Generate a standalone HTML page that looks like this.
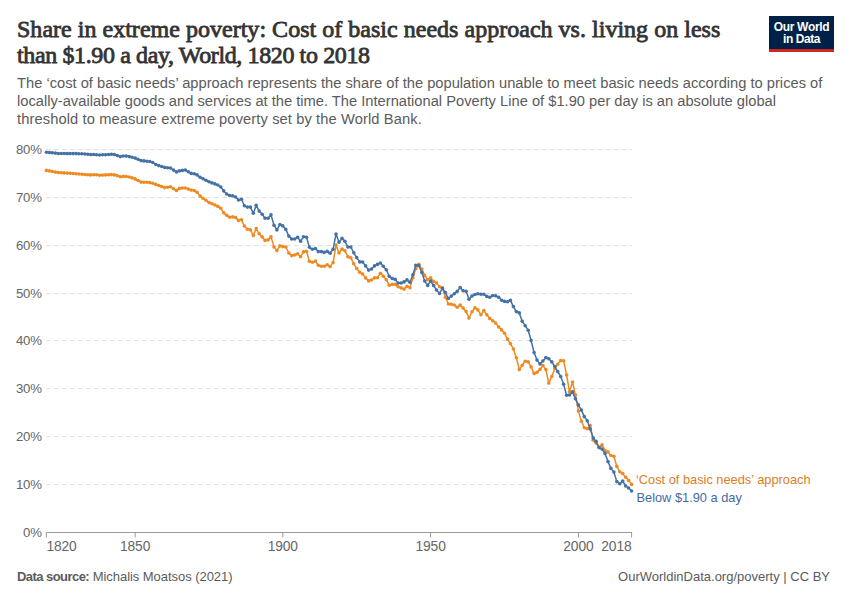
<!DOCTYPE html>
<html><head><meta charset="utf-8"><style>
html,body{margin:0;padding:0;background:#fff;}
body{width:850px;height:600px;position:relative;overflow:hidden;font-family:"Liberation Sans",sans-serif;}
.title{position:absolute;left:17px;white-space:nowrap;font-family:"Liberation Serif",serif;font-weight:normal;-webkit-text-stroke:0.8px #333;font-size:24px;line-height:26px;color:#333;}
.sub{position:absolute;left:17px;white-space:nowrap;font-size:14.7px;line-height:17.7px;color:#5b5b5b;}
.logo{position:absolute;left:769px;top:16px;width:65px;height:33px;background:#002147;border-bottom:3px solid #ce261e;color:#fff;font-weight:bold;font-size:12px;line-height:11.7px;text-align:center;padding-top:0;}
.logo div{position:relative;top:6px;}
.ax{font-family:"Liberation Sans",sans-serif;font-size:13.8px;fill:#666;letter-spacing:-0.1px}
.ay{font-size:13.2px;letter-spacing:-0.2px}
.lab{font-family:"Liberation Sans",sans-serif;font-size:12.8px;}
.foot{position:absolute;top:569px;font-size:13px;color:#5b5b5b;line-height:16px;}
</style></head><body>
<div class="title" style="top:16px;letter-spacing:0.02px">Share in extreme poverty: Cost of basic needs approach vs. living on less</div>
<div class="title" style="top:42px;letter-spacing:-0.38px">than $1.90 a day, World, 1820 to 2018</div>
<div class="sub" style="top:75.4px">The ‘cost of basic needs’ approach represents the share of the population unable to meet basic needs according to prices of</div>
<div class="sub" style="top:93.1px">locally-available goods and services at the time. The International Poverty Line of $1.90 per day is an absolute global</div>
<div class="sub" style="top:110.8px;letter-spacing:0.1px">threshold to measure extreme poverty set by the World Bank.</div>
<div class="logo"><div><span style="letter-spacing:-0.3px">Our World</span><br><span style="letter-spacing:-0.45px">in Data</span></div></div>
<svg width="850" height="600" style="position:absolute;left:0;top:0">
<line x1="46.3" y1="484.5" x2="632" y2="484.5" stroke="#dedede" stroke-width="1" stroke-dasharray="4.4,3.6"/>
<text x="41.7" y="489.4" text-anchor="end" class="ax ay">10%</text>
<line x1="46.3" y1="436.5" x2="632" y2="436.5" stroke="#dedede" stroke-width="1" stroke-dasharray="4.4,3.6"/>
<text x="41.7" y="441.4" text-anchor="end" class="ax ay">20%</text>
<line x1="46.3" y1="388.5" x2="632" y2="388.5" stroke="#dedede" stroke-width="1" stroke-dasharray="4.4,3.6"/>
<text x="41.7" y="393.4" text-anchor="end" class="ax ay">30%</text>
<line x1="46.3" y1="340.5" x2="632" y2="340.5" stroke="#dedede" stroke-width="1" stroke-dasharray="4.4,3.6"/>
<text x="41.7" y="345.4" text-anchor="end" class="ax ay">40%</text>
<line x1="46.3" y1="293.5" x2="632" y2="293.5" stroke="#dedede" stroke-width="1" stroke-dasharray="4.4,3.6"/>
<text x="41.7" y="298.4" text-anchor="end" class="ax ay">50%</text>
<line x1="46.3" y1="245.5" x2="632" y2="245.5" stroke="#dedede" stroke-width="1" stroke-dasharray="4.4,3.6"/>
<text x="41.7" y="250.4" text-anchor="end" class="ax ay">60%</text>
<line x1="46.3" y1="197.5" x2="632" y2="197.5" stroke="#dedede" stroke-width="1" stroke-dasharray="4.4,3.6"/>
<text x="41.7" y="202.4" text-anchor="end" class="ax ay">70%</text>
<line x1="46.3" y1="149.5" x2="632" y2="149.5" stroke="#dedede" stroke-width="1" stroke-dasharray="4.4,3.6"/>
<text x="41.7" y="154.4" text-anchor="end" class="ax ay">80%</text>
<text x="41.7" y="537.2" text-anchor="end" class="ax ay">0%</text>
<line x1="46.4" y1="532.5" x2="632" y2="532.5" stroke="#999" stroke-width="1"/>
<line x1="46.4" y1="532.5" x2="46.4" y2="537.5" stroke="#999" stroke-width="1"/>
<text x="46.4" y="551" text-anchor="start" class="ax">1820</text>
<line x1="135.1" y1="532.5" x2="135.1" y2="537.5" stroke="#999" stroke-width="1"/>
<text x="135.1" y="551" text-anchor="middle" class="ax">1850</text>
<line x1="282.8" y1="532.5" x2="282.8" y2="537.5" stroke="#999" stroke-width="1"/>
<text x="282.8" y="551" text-anchor="middle" class="ax">1900</text>
<line x1="430.6" y1="532.5" x2="430.6" y2="537.5" stroke="#999" stroke-width="1"/>
<text x="430.6" y="551" text-anchor="middle" class="ax">1950</text>
<line x1="578.4" y1="532.5" x2="578.4" y2="537.5" stroke="#999" stroke-width="1"/>
<text x="578.4" y="551" text-anchor="middle" class="ax">2000</text>
<line x1="631.6" y1="532.5" x2="631.6" y2="537.5" stroke="#999" stroke-width="1"/>
<text x="631.6" y="551" text-anchor="end" class="ax">2018</text>
<polyline fill="none" stroke="#ee8a22" stroke-width="1.5" stroke-linejoin="round" points="46.4,170.4 49.4,170.9 52.3,171.5 55.3,172.1 58.2,172.5 61.2,172.7 64.1,172.9 67.1,173.1 70.0,173.3 73.0,173.5 76.0,173.7 78.9,174.0 81.9,174.3 84.8,174.5 87.8,174.8 90.7,174.9 93.7,174.7 96.6,174.8 99.6,175.2 102.6,175.1 105.5,174.9 108.5,174.8 111.4,174.6 114.4,174.9 117.3,175.8 120.3,176.8 123.2,176.4 126.2,176.5 129.2,177.0 132.1,177.9 135.1,178.9 138.0,180.5 141.0,182.1 143.9,182.2 146.9,182.3 149.8,182.6 152.8,183.2 155.8,184.4 158.7,185.5 161.7,186.5 164.6,187.6 167.6,187.2 170.5,186.7 173.5,188.8 176.4,190.4 179.4,188.4 182.4,188.0 185.3,188.0 188.3,189.1 191.2,190.1 194.2,190.5 197.1,192.2 200.1,196.1 203.0,198.2 206.0,200.3 209.0,202.5 211.9,203.8 214.9,205.0 217.8,206.4 220.8,208.3 223.7,212.8 226.7,215.3 229.6,217.3 232.6,216.9 235.6,217.6 238.5,220.4 241.5,219.7 244.4,226.1 247.4,229.3 250.3,229.8 253.3,235.6 256.2,228.5 259.2,233.8 262.2,236.9 265.1,240.4 268.1,239.9 271.0,236.8 274.0,246.9 276.9,250.6 279.9,245.9 282.8,246.6 285.8,247.0 288.8,253.0 291.7,255.6 294.7,255.0 297.6,253.7 300.6,256.7 303.5,251.9 306.5,251.3 309.4,261.3 312.4,262.3 315.4,261.1 318.3,265.3 321.3,266.3 324.2,266.3 327.2,264.8 330.1,266.6 333.1,262.6 336.0,245.1 339.0,253.0 342.0,249.1 344.9,250.8 347.9,256.7 350.8,257.7 353.8,263.8 356.7,268.6 359.7,272.3 362.6,274.0 365.6,277.9 368.6,280.9 371.5,280.0 374.5,277.9 377.4,277.7 380.4,273.3 383.3,276.3 386.3,279.8 389.2,285.2 392.2,284.4 395.2,284.3 398.1,286.8 401.1,287.9 404.0,289.1 407.0,286.4 409.9,287.7 412.9,277.7 415.8,268.8 418.8,264.2 421.8,269.1 424.7,275.4 427.7,279.7 430.6,277.7 433.6,281.5 436.5,282.9 439.5,286.7 442.4,287.9 445.4,297.2 448.4,304.0 451.3,304.3 454.3,305.0 457.2,307.2 460.2,305.1 463.1,308.1 466.1,311.5 469.0,318.1 472.0,311.8 475.0,307.7 477.9,309.9 480.9,314.8 483.8,310.6 486.8,314.7 489.7,318.4 492.7,320.8 495.6,323.0 498.6,326.9 501.6,329.9 504.5,333.2 507.5,339.1 510.4,343.6 513.4,349.0 516.3,357.8 519.3,369.6 522.2,365.3 525.2,361.3 528.2,361.9 531.1,366.9 534.1,373.6 537.0,372.3 540.0,369.4 542.9,365.6 545.9,369.6 548.8,383.1 551.8,376.5 554.8,368.8 557.7,364.2 560.7,360.6 563.6,360.7 566.6,375.0 569.5,391.7 572.5,382.0 575.4,394.9 578.4,411.1 581.4,421.3 584.3,427.7 587.3,428.7 590.2,425.5 593.2,440.3 596.1,443.1 599.1,447.5 602.0,444.9 605.0,450.6 608.0,451.9 610.9,455.5 613.9,456.2 616.8,466.4 619.8,471.8 622.7,473.6 625.7,477.3 628.6,480.4 631.6,484.4"/>
<g fill="#ee8a22"><circle cx="46.4" cy="170.4" r="1.8"/><circle cx="49.4" cy="170.9" r="1.8"/><circle cx="52.3" cy="171.5" r="1.8"/><circle cx="55.3" cy="172.1" r="1.8"/><circle cx="58.2" cy="172.5" r="1.8"/><circle cx="61.2" cy="172.7" r="1.8"/><circle cx="64.1" cy="172.9" r="1.8"/><circle cx="67.1" cy="173.1" r="1.8"/><circle cx="70.0" cy="173.3" r="1.8"/><circle cx="73.0" cy="173.5" r="1.8"/><circle cx="76.0" cy="173.7" r="1.8"/><circle cx="78.9" cy="174.0" r="1.8"/><circle cx="81.9" cy="174.3" r="1.8"/><circle cx="84.8" cy="174.5" r="1.8"/><circle cx="87.8" cy="174.8" r="1.8"/><circle cx="90.7" cy="174.9" r="1.8"/><circle cx="93.7" cy="174.7" r="1.8"/><circle cx="96.6" cy="174.8" r="1.8"/><circle cx="99.6" cy="175.2" r="1.8"/><circle cx="102.6" cy="175.1" r="1.8"/><circle cx="105.5" cy="174.9" r="1.8"/><circle cx="108.5" cy="174.8" r="1.8"/><circle cx="111.4" cy="174.6" r="1.8"/><circle cx="114.4" cy="174.9" r="1.8"/><circle cx="117.3" cy="175.8" r="1.8"/><circle cx="120.3" cy="176.8" r="1.8"/><circle cx="123.2" cy="176.4" r="1.8"/><circle cx="126.2" cy="176.5" r="1.8"/><circle cx="129.2" cy="177.0" r="1.8"/><circle cx="132.1" cy="177.9" r="1.8"/><circle cx="135.1" cy="178.9" r="1.8"/><circle cx="138.0" cy="180.5" r="1.8"/><circle cx="141.0" cy="182.1" r="1.8"/><circle cx="143.9" cy="182.2" r="1.8"/><circle cx="146.9" cy="182.3" r="1.8"/><circle cx="149.8" cy="182.6" r="1.8"/><circle cx="152.8" cy="183.2" r="1.8"/><circle cx="155.8" cy="184.4" r="1.8"/><circle cx="158.7" cy="185.5" r="1.8"/><circle cx="161.7" cy="186.5" r="1.8"/><circle cx="164.6" cy="187.6" r="1.8"/><circle cx="167.6" cy="187.2" r="1.8"/><circle cx="170.5" cy="186.7" r="1.8"/><circle cx="173.5" cy="188.8" r="1.8"/><circle cx="176.4" cy="190.4" r="1.8"/><circle cx="179.4" cy="188.4" r="1.8"/><circle cx="182.4" cy="188.0" r="1.8"/><circle cx="185.3" cy="188.0" r="1.8"/><circle cx="188.3" cy="189.1" r="1.8"/><circle cx="191.2" cy="190.1" r="1.8"/><circle cx="194.2" cy="190.5" r="1.8"/><circle cx="197.1" cy="192.2" r="1.8"/><circle cx="200.1" cy="196.1" r="1.8"/><circle cx="203.0" cy="198.2" r="1.8"/><circle cx="206.0" cy="200.3" r="1.8"/><circle cx="209.0" cy="202.5" r="1.8"/><circle cx="211.9" cy="203.8" r="1.8"/><circle cx="214.9" cy="205.0" r="1.8"/><circle cx="217.8" cy="206.4" r="1.8"/><circle cx="220.8" cy="208.3" r="1.8"/><circle cx="223.7" cy="212.8" r="1.8"/><circle cx="226.7" cy="215.3" r="1.8"/><circle cx="229.6" cy="217.3" r="1.8"/><circle cx="232.6" cy="216.9" r="1.8"/><circle cx="235.6" cy="217.6" r="1.8"/><circle cx="238.5" cy="220.4" r="1.8"/><circle cx="241.5" cy="219.7" r="1.8"/><circle cx="244.4" cy="226.1" r="1.8"/><circle cx="247.4" cy="229.3" r="1.8"/><circle cx="250.3" cy="229.8" r="1.8"/><circle cx="253.3" cy="235.6" r="1.8"/><circle cx="256.2" cy="228.5" r="1.8"/><circle cx="259.2" cy="233.8" r="1.8"/><circle cx="262.2" cy="236.9" r="1.8"/><circle cx="265.1" cy="240.4" r="1.8"/><circle cx="268.1" cy="239.9" r="1.8"/><circle cx="271.0" cy="236.8" r="1.8"/><circle cx="274.0" cy="246.9" r="1.8"/><circle cx="276.9" cy="250.6" r="1.8"/><circle cx="279.9" cy="245.9" r="1.8"/><circle cx="282.8" cy="246.6" r="1.8"/><circle cx="285.8" cy="247.0" r="1.8"/><circle cx="288.8" cy="253.0" r="1.8"/><circle cx="291.7" cy="255.6" r="1.8"/><circle cx="294.7" cy="255.0" r="1.8"/><circle cx="297.6" cy="253.7" r="1.8"/><circle cx="300.6" cy="256.7" r="1.8"/><circle cx="303.5" cy="251.9" r="1.8"/><circle cx="306.5" cy="251.3" r="1.8"/><circle cx="309.4" cy="261.3" r="1.8"/><circle cx="312.4" cy="262.3" r="1.8"/><circle cx="315.4" cy="261.1" r="1.8"/><circle cx="318.3" cy="265.3" r="1.8"/><circle cx="321.3" cy="266.3" r="1.8"/><circle cx="324.2" cy="266.3" r="1.8"/><circle cx="327.2" cy="264.8" r="1.8"/><circle cx="330.1" cy="266.6" r="1.8"/><circle cx="333.1" cy="262.6" r="1.8"/><circle cx="336.0" cy="245.1" r="1.8"/><circle cx="339.0" cy="253.0" r="1.8"/><circle cx="342.0" cy="249.1" r="1.8"/><circle cx="344.9" cy="250.8" r="1.8"/><circle cx="347.9" cy="256.7" r="1.8"/><circle cx="350.8" cy="257.7" r="1.8"/><circle cx="353.8" cy="263.8" r="1.8"/><circle cx="356.7" cy="268.6" r="1.8"/><circle cx="359.7" cy="272.3" r="1.8"/><circle cx="362.6" cy="274.0" r="1.8"/><circle cx="365.6" cy="277.9" r="1.8"/><circle cx="368.6" cy="280.9" r="1.8"/><circle cx="371.5" cy="280.0" r="1.8"/><circle cx="374.5" cy="277.9" r="1.8"/><circle cx="377.4" cy="277.7" r="1.8"/><circle cx="380.4" cy="273.3" r="1.8"/><circle cx="383.3" cy="276.3" r="1.8"/><circle cx="386.3" cy="279.8" r="1.8"/><circle cx="389.2" cy="285.2" r="1.8"/><circle cx="392.2" cy="284.4" r="1.8"/><circle cx="395.2" cy="284.3" r="1.8"/><circle cx="398.1" cy="286.8" r="1.8"/><circle cx="401.1" cy="287.9" r="1.8"/><circle cx="404.0" cy="289.1" r="1.8"/><circle cx="407.0" cy="286.4" r="1.8"/><circle cx="409.9" cy="287.7" r="1.8"/><circle cx="412.9" cy="277.7" r="1.8"/><circle cx="415.8" cy="268.8" r="1.8"/><circle cx="418.8" cy="264.2" r="1.8"/><circle cx="421.8" cy="269.1" r="1.8"/><circle cx="424.7" cy="275.4" r="1.8"/><circle cx="427.7" cy="279.7" r="1.8"/><circle cx="430.6" cy="277.7" r="1.8"/><circle cx="433.6" cy="281.5" r="1.8"/><circle cx="436.5" cy="282.9" r="1.8"/><circle cx="439.5" cy="286.7" r="1.8"/><circle cx="442.4" cy="287.9" r="1.8"/><circle cx="445.4" cy="297.2" r="1.8"/><circle cx="448.4" cy="304.0" r="1.8"/><circle cx="451.3" cy="304.3" r="1.8"/><circle cx="454.3" cy="305.0" r="1.8"/><circle cx="457.2" cy="307.2" r="1.8"/><circle cx="460.2" cy="305.1" r="1.8"/><circle cx="463.1" cy="308.1" r="1.8"/><circle cx="466.1" cy="311.5" r="1.8"/><circle cx="469.0" cy="318.1" r="1.8"/><circle cx="472.0" cy="311.8" r="1.8"/><circle cx="475.0" cy="307.7" r="1.8"/><circle cx="477.9" cy="309.9" r="1.8"/><circle cx="480.9" cy="314.8" r="1.8"/><circle cx="483.8" cy="310.6" r="1.8"/><circle cx="486.8" cy="314.7" r="1.8"/><circle cx="489.7" cy="318.4" r="1.8"/><circle cx="492.7" cy="320.8" r="1.8"/><circle cx="495.6" cy="323.0" r="1.8"/><circle cx="498.6" cy="326.9" r="1.8"/><circle cx="501.6" cy="329.9" r="1.8"/><circle cx="504.5" cy="333.2" r="1.8"/><circle cx="507.5" cy="339.1" r="1.8"/><circle cx="510.4" cy="343.6" r="1.8"/><circle cx="513.4" cy="349.0" r="1.8"/><circle cx="516.3" cy="357.8" r="1.8"/><circle cx="519.3" cy="369.6" r="1.8"/><circle cx="522.2" cy="365.3" r="1.8"/><circle cx="525.2" cy="361.3" r="1.8"/><circle cx="528.2" cy="361.9" r="1.8"/><circle cx="531.1" cy="366.9" r="1.8"/><circle cx="534.1" cy="373.6" r="1.8"/><circle cx="537.0" cy="372.3" r="1.8"/><circle cx="540.0" cy="369.4" r="1.8"/><circle cx="542.9" cy="365.6" r="1.8"/><circle cx="545.9" cy="369.6" r="1.8"/><circle cx="548.8" cy="383.1" r="1.8"/><circle cx="551.8" cy="376.5" r="1.8"/><circle cx="554.8" cy="368.8" r="1.8"/><circle cx="557.7" cy="364.2" r="1.8"/><circle cx="560.7" cy="360.6" r="1.8"/><circle cx="563.6" cy="360.7" r="1.8"/><circle cx="566.6" cy="375.0" r="1.8"/><circle cx="569.5" cy="391.7" r="1.8"/><circle cx="572.5" cy="382.0" r="1.8"/><circle cx="575.4" cy="394.9" r="1.8"/><circle cx="578.4" cy="411.1" r="1.8"/><circle cx="581.4" cy="421.3" r="1.8"/><circle cx="584.3" cy="427.7" r="1.8"/><circle cx="587.3" cy="428.7" r="1.8"/><circle cx="590.2" cy="425.5" r="1.8"/><circle cx="593.2" cy="440.3" r="1.8"/><circle cx="596.1" cy="443.1" r="1.8"/><circle cx="599.1" cy="447.5" r="1.8"/><circle cx="602.0" cy="444.9" r="1.8"/><circle cx="605.0" cy="450.6" r="1.8"/><circle cx="608.0" cy="451.9" r="1.8"/><circle cx="610.9" cy="455.5" r="1.8"/><circle cx="613.9" cy="456.2" r="1.8"/><circle cx="616.8" cy="466.4" r="1.8"/><circle cx="619.8" cy="471.8" r="1.8"/><circle cx="622.7" cy="473.6" r="1.8"/><circle cx="625.7" cy="477.3" r="1.8"/><circle cx="628.6" cy="480.4" r="1.8"/><circle cx="631.6" cy="484.4" r="1.8"/></g>
<polyline fill="none" stroke="#4471a6" stroke-width="1.5" stroke-linejoin="round" points="46.4,152.3 49.4,152.5 52.3,152.7 55.3,153.1 58.2,153.5 61.2,153.5 64.1,153.5 67.1,153.6 70.0,153.6 73.0,153.6 76.0,153.6 78.9,153.7 81.9,153.8 84.8,154.0 87.8,154.3 90.7,154.6 93.7,154.5 96.6,154.7 99.6,155.0 102.6,154.8 105.5,154.7 108.5,154.5 111.4,154.3 114.4,154.5 117.3,155.6 120.3,156.6 123.2,156.0 126.2,156.1 129.2,156.6 132.1,157.3 135.1,158.1 138.0,159.3 141.0,160.6 143.9,160.9 146.9,161.3 149.8,161.5 152.8,162.5 155.8,164.5 158.7,165.6 161.7,166.5 164.6,167.4 167.6,167.7 170.5,168.0 173.5,170.1 176.4,171.9 179.4,170.9 182.4,170.4 185.3,170.0 188.3,171.8 191.2,173.4 194.2,173.8 197.1,174.9 200.1,177.3 203.0,178.8 206.0,180.3 209.0,181.8 211.9,182.9 214.9,183.9 217.8,185.0 220.8,187.0 223.7,190.9 226.7,194.0 229.6,195.5 232.6,195.8 235.6,197.0 238.5,200.0 241.5,199.3 244.4,205.8 247.4,207.1 250.3,207.1 253.3,213.3 256.2,205.4 259.2,211.1 262.2,214.2 265.1,218.3 268.1,218.2 271.0,214.8 274.0,225.2 276.9,229.9 279.9,224.6 282.8,225.9 285.8,229.4 288.8,236.1 291.7,239.0 294.7,239.0 297.6,237.3 300.6,241.3 303.5,236.7 306.5,237.3 309.4,247.3 312.4,249.3 315.4,248.5 318.3,251.6 321.3,251.6 324.2,252.4 327.2,251.3 330.1,253.2 333.1,249.3 336.0,234.1 339.0,242.3 342.0,238.4 344.9,241.3 347.9,247.1 350.8,247.0 353.8,252.8 356.7,257.6 359.7,261.9 362.6,262.0 365.6,265.9 368.6,270.1 371.5,269.0 374.5,265.9 377.4,264.4 380.4,263.0 383.3,266.3 386.3,269.8 389.2,276.2 392.2,278.5 395.2,279.4 398.1,283.1 401.1,283.0 404.0,281.9 407.0,279.9 409.9,282.2 412.9,274.8 415.8,265.3 418.8,265.5 421.8,272.5 424.7,281.0 427.7,285.4 430.6,281.0 433.6,285.5 436.5,290.0 439.5,293.5 442.4,288.3 445.4,292.5 448.4,298.5 451.3,296.1 454.3,293.7 457.2,291.4 460.2,287.6 463.1,290.8 466.1,291.3 469.0,299.3 472.0,296.1 475.0,294.5 477.9,293.8 480.9,294.3 483.8,294.3 486.8,296.4 489.7,297.3 492.7,295.5 495.6,295.7 498.6,297.3 501.6,300.2 504.5,301.4 507.5,301.7 510.4,300.4 513.4,306.6 516.3,311.6 519.3,312.9 522.2,321.2 525.2,325.7 528.2,330.2 531.1,340.5 534.1,352.6 537.0,360.1 540.0,363.9 542.9,361.0 545.9,357.6 548.8,358.8 551.8,361.9 554.8,366.5 557.7,371.6 560.7,376.5 563.6,384.2 566.6,395.2 569.5,395.0 572.5,391.9 575.4,398.8 578.4,404.9 581.4,410.1 584.3,416.6 587.3,420.7 590.2,428.9 593.2,438.1 596.1,441.4 599.1,447.6 602.0,449.1 605.0,453.4 608.0,461.6 610.9,468.4 613.9,472.1 616.8,481.6 619.8,483.8 622.7,481.1 625.7,486.0 628.6,488.0 631.6,491.0"/>
<g fill="#4471a6"><circle cx="46.4" cy="152.3" r="1.8"/><circle cx="49.4" cy="152.5" r="1.8"/><circle cx="52.3" cy="152.7" r="1.8"/><circle cx="55.3" cy="153.1" r="1.8"/><circle cx="58.2" cy="153.5" r="1.8"/><circle cx="61.2" cy="153.5" r="1.8"/><circle cx="64.1" cy="153.5" r="1.8"/><circle cx="67.1" cy="153.6" r="1.8"/><circle cx="70.0" cy="153.6" r="1.8"/><circle cx="73.0" cy="153.6" r="1.8"/><circle cx="76.0" cy="153.6" r="1.8"/><circle cx="78.9" cy="153.7" r="1.8"/><circle cx="81.9" cy="153.8" r="1.8"/><circle cx="84.8" cy="154.0" r="1.8"/><circle cx="87.8" cy="154.3" r="1.8"/><circle cx="90.7" cy="154.6" r="1.8"/><circle cx="93.7" cy="154.5" r="1.8"/><circle cx="96.6" cy="154.7" r="1.8"/><circle cx="99.6" cy="155.0" r="1.8"/><circle cx="102.6" cy="154.8" r="1.8"/><circle cx="105.5" cy="154.7" r="1.8"/><circle cx="108.5" cy="154.5" r="1.8"/><circle cx="111.4" cy="154.3" r="1.8"/><circle cx="114.4" cy="154.5" r="1.8"/><circle cx="117.3" cy="155.6" r="1.8"/><circle cx="120.3" cy="156.6" r="1.8"/><circle cx="123.2" cy="156.0" r="1.8"/><circle cx="126.2" cy="156.1" r="1.8"/><circle cx="129.2" cy="156.6" r="1.8"/><circle cx="132.1" cy="157.3" r="1.8"/><circle cx="135.1" cy="158.1" r="1.8"/><circle cx="138.0" cy="159.3" r="1.8"/><circle cx="141.0" cy="160.6" r="1.8"/><circle cx="143.9" cy="160.9" r="1.8"/><circle cx="146.9" cy="161.3" r="1.8"/><circle cx="149.8" cy="161.5" r="1.8"/><circle cx="152.8" cy="162.5" r="1.8"/><circle cx="155.8" cy="164.5" r="1.8"/><circle cx="158.7" cy="165.6" r="1.8"/><circle cx="161.7" cy="166.5" r="1.8"/><circle cx="164.6" cy="167.4" r="1.8"/><circle cx="167.6" cy="167.7" r="1.8"/><circle cx="170.5" cy="168.0" r="1.8"/><circle cx="173.5" cy="170.1" r="1.8"/><circle cx="176.4" cy="171.9" r="1.8"/><circle cx="179.4" cy="170.9" r="1.8"/><circle cx="182.4" cy="170.4" r="1.8"/><circle cx="185.3" cy="170.0" r="1.8"/><circle cx="188.3" cy="171.8" r="1.8"/><circle cx="191.2" cy="173.4" r="1.8"/><circle cx="194.2" cy="173.8" r="1.8"/><circle cx="197.1" cy="174.9" r="1.8"/><circle cx="200.1" cy="177.3" r="1.8"/><circle cx="203.0" cy="178.8" r="1.8"/><circle cx="206.0" cy="180.3" r="1.8"/><circle cx="209.0" cy="181.8" r="1.8"/><circle cx="211.9" cy="182.9" r="1.8"/><circle cx="214.9" cy="183.9" r="1.8"/><circle cx="217.8" cy="185.0" r="1.8"/><circle cx="220.8" cy="187.0" r="1.8"/><circle cx="223.7" cy="190.9" r="1.8"/><circle cx="226.7" cy="194.0" r="1.8"/><circle cx="229.6" cy="195.5" r="1.8"/><circle cx="232.6" cy="195.8" r="1.8"/><circle cx="235.6" cy="197.0" r="1.8"/><circle cx="238.5" cy="200.0" r="1.8"/><circle cx="241.5" cy="199.3" r="1.8"/><circle cx="244.4" cy="205.8" r="1.8"/><circle cx="247.4" cy="207.1" r="1.8"/><circle cx="250.3" cy="207.1" r="1.8"/><circle cx="253.3" cy="213.3" r="1.8"/><circle cx="256.2" cy="205.4" r="1.8"/><circle cx="259.2" cy="211.1" r="1.8"/><circle cx="262.2" cy="214.2" r="1.8"/><circle cx="265.1" cy="218.3" r="1.8"/><circle cx="268.1" cy="218.2" r="1.8"/><circle cx="271.0" cy="214.8" r="1.8"/><circle cx="274.0" cy="225.2" r="1.8"/><circle cx="276.9" cy="229.9" r="1.8"/><circle cx="279.9" cy="224.6" r="1.8"/><circle cx="282.8" cy="225.9" r="1.8"/><circle cx="285.8" cy="229.4" r="1.8"/><circle cx="288.8" cy="236.1" r="1.8"/><circle cx="291.7" cy="239.0" r="1.8"/><circle cx="294.7" cy="239.0" r="1.8"/><circle cx="297.6" cy="237.3" r="1.8"/><circle cx="300.6" cy="241.3" r="1.8"/><circle cx="303.5" cy="236.7" r="1.8"/><circle cx="306.5" cy="237.3" r="1.8"/><circle cx="309.4" cy="247.3" r="1.8"/><circle cx="312.4" cy="249.3" r="1.8"/><circle cx="315.4" cy="248.5" r="1.8"/><circle cx="318.3" cy="251.6" r="1.8"/><circle cx="321.3" cy="251.6" r="1.8"/><circle cx="324.2" cy="252.4" r="1.8"/><circle cx="327.2" cy="251.3" r="1.8"/><circle cx="330.1" cy="253.2" r="1.8"/><circle cx="333.1" cy="249.3" r="1.8"/><circle cx="336.0" cy="234.1" r="1.8"/><circle cx="339.0" cy="242.3" r="1.8"/><circle cx="342.0" cy="238.4" r="1.8"/><circle cx="344.9" cy="241.3" r="1.8"/><circle cx="347.9" cy="247.1" r="1.8"/><circle cx="350.8" cy="247.0" r="1.8"/><circle cx="353.8" cy="252.8" r="1.8"/><circle cx="356.7" cy="257.6" r="1.8"/><circle cx="359.7" cy="261.9" r="1.8"/><circle cx="362.6" cy="262.0" r="1.8"/><circle cx="365.6" cy="265.9" r="1.8"/><circle cx="368.6" cy="270.1" r="1.8"/><circle cx="371.5" cy="269.0" r="1.8"/><circle cx="374.5" cy="265.9" r="1.8"/><circle cx="377.4" cy="264.4" r="1.8"/><circle cx="380.4" cy="263.0" r="1.8"/><circle cx="383.3" cy="266.3" r="1.8"/><circle cx="386.3" cy="269.8" r="1.8"/><circle cx="389.2" cy="276.2" r="1.8"/><circle cx="392.2" cy="278.5" r="1.8"/><circle cx="395.2" cy="279.4" r="1.8"/><circle cx="398.1" cy="283.1" r="1.8"/><circle cx="401.1" cy="283.0" r="1.8"/><circle cx="404.0" cy="281.9" r="1.8"/><circle cx="407.0" cy="279.9" r="1.8"/><circle cx="409.9" cy="282.2" r="1.8"/><circle cx="412.9" cy="274.8" r="1.8"/><circle cx="415.8" cy="265.3" r="1.8"/><circle cx="418.8" cy="265.5" r="1.8"/><circle cx="421.8" cy="272.5" r="1.8"/><circle cx="424.7" cy="281.0" r="1.8"/><circle cx="427.7" cy="285.4" r="1.8"/><circle cx="430.6" cy="281.0" r="1.8"/><circle cx="433.6" cy="285.5" r="1.8"/><circle cx="436.5" cy="290.0" r="1.8"/><circle cx="439.5" cy="293.5" r="1.8"/><circle cx="442.4" cy="288.3" r="1.8"/><circle cx="445.4" cy="292.5" r="1.8"/><circle cx="448.4" cy="298.5" r="1.8"/><circle cx="451.3" cy="296.1" r="1.8"/><circle cx="454.3" cy="293.7" r="1.8"/><circle cx="457.2" cy="291.4" r="1.8"/><circle cx="460.2" cy="287.6" r="1.8"/><circle cx="463.1" cy="290.8" r="1.8"/><circle cx="466.1" cy="291.3" r="1.8"/><circle cx="469.0" cy="299.3" r="1.8"/><circle cx="472.0" cy="296.1" r="1.8"/><circle cx="475.0" cy="294.5" r="1.8"/><circle cx="477.9" cy="293.8" r="1.8"/><circle cx="480.9" cy="294.3" r="1.8"/><circle cx="483.8" cy="294.3" r="1.8"/><circle cx="486.8" cy="296.4" r="1.8"/><circle cx="489.7" cy="297.3" r="1.8"/><circle cx="492.7" cy="295.5" r="1.8"/><circle cx="495.6" cy="295.7" r="1.8"/><circle cx="498.6" cy="297.3" r="1.8"/><circle cx="501.6" cy="300.2" r="1.8"/><circle cx="504.5" cy="301.4" r="1.8"/><circle cx="507.5" cy="301.7" r="1.8"/><circle cx="510.4" cy="300.4" r="1.8"/><circle cx="513.4" cy="306.6" r="1.8"/><circle cx="516.3" cy="311.6" r="1.8"/><circle cx="519.3" cy="312.9" r="1.8"/><circle cx="522.2" cy="321.2" r="1.8"/><circle cx="525.2" cy="325.7" r="1.8"/><circle cx="528.2" cy="330.2" r="1.8"/><circle cx="531.1" cy="340.5" r="1.8"/><circle cx="534.1" cy="352.6" r="1.8"/><circle cx="537.0" cy="360.1" r="1.8"/><circle cx="540.0" cy="363.9" r="1.8"/><circle cx="542.9" cy="361.0" r="1.8"/><circle cx="545.9" cy="357.6" r="1.8"/><circle cx="548.8" cy="358.8" r="1.8"/><circle cx="551.8" cy="361.9" r="1.8"/><circle cx="554.8" cy="366.5" r="1.8"/><circle cx="557.7" cy="371.6" r="1.8"/><circle cx="560.7" cy="376.5" r="1.8"/><circle cx="563.6" cy="384.2" r="1.8"/><circle cx="566.6" cy="395.2" r="1.8"/><circle cx="569.5" cy="395.0" r="1.8"/><circle cx="572.5" cy="391.9" r="1.8"/><circle cx="575.4" cy="398.8" r="1.8"/><circle cx="578.4" cy="404.9" r="1.8"/><circle cx="581.4" cy="410.1" r="1.8"/><circle cx="584.3" cy="416.6" r="1.8"/><circle cx="587.3" cy="420.7" r="1.8"/><circle cx="590.2" cy="428.9" r="1.8"/><circle cx="593.2" cy="438.1" r="1.8"/><circle cx="596.1" cy="441.4" r="1.8"/><circle cx="599.1" cy="447.6" r="1.8"/><circle cx="602.0" cy="449.1" r="1.8"/><circle cx="605.0" cy="453.4" r="1.8"/><circle cx="608.0" cy="461.6" r="1.8"/><circle cx="610.9" cy="468.4" r="1.8"/><circle cx="613.9" cy="472.1" r="1.8"/><circle cx="616.8" cy="481.6" r="1.8"/><circle cx="619.8" cy="483.8" r="1.8"/><circle cx="622.7" cy="481.1" r="1.8"/><circle cx="625.7" cy="486.0" r="1.8"/><circle cx="628.6" cy="488.0" r="1.8"/><circle cx="631.6" cy="491.0" r="1.8"/></g>
<text x="636" y="483.8" class="lab" fill="#dd7d25">‘Cost of basic needs’ approach</text>
<text x="636.5" y="502" class="lab" fill="#3f6ba2">Below $1.90 a day</text>
</svg>
<div class="foot" style="left:17px;letter-spacing:-0.05px"><b style="letter-spacing:-0.55px">Data source:</b> Michalis Moatsos (2021)</div>
<div class="foot" style="right:20px">OurWorldinData.org/poverty | CC BY</div>
</body></html>
